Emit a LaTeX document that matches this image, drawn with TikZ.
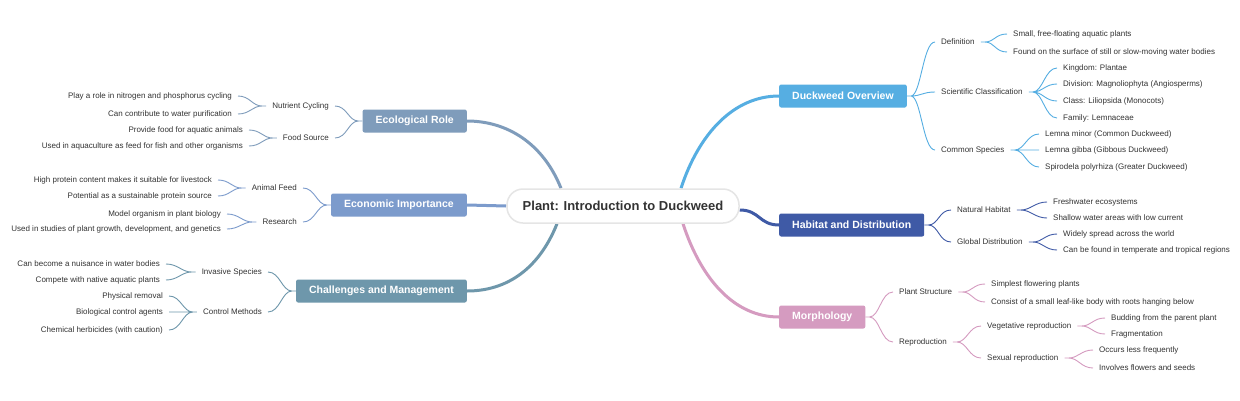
\documentclass[tikz,border=0pt]{standalone}
\usepackage{fontspec}
\setmainfont{Liberation Sans}
\usetikzlibrary{backgrounds}
\definecolor{txt}{HTML}{333333}
\definecolor{ovblue}{HTML}{56AEE2}
\definecolor{habblue}{HTML}{3F5AA6}
\definecolor{morpink}{HTML}{D59BC0}
\definecolor{ecogray}{HTML}{7F9CBB}
\definecolor{econblue}{HTML}{7C9BCC}
\definecolor{chalteal}{HTML}{6E97AB}
\begin{document}
\begin{tikzpicture}[x=1pt,y=-1pt,
  root/.style={draw=black!10, line width=1.5pt, fill=white, rounded corners=16pt,
    minimum width=232pt, minimum height=34pt, text=txt,
    font=\fontsize{13}{15}\selectfont\bfseries},
  topic/.style={rounded corners=2pt, minimum height=23pt, inner xsep=13pt,
    text=white, font=\fontsize{10.5}{12}\selectfont\bfseries},
  sub/.style={inner xsep=6pt, inner ysep=1pt, text=txt,
    font=\fontsize{8}{10}\selectfont},
  rbranch/.style={line width=.9pt, to path={-- ++(4,0) .. controls +(10,0) and +(-12,0) .. (\tikztotarget)}},
  lbranch/.style={line width=.9pt, to path={-- ++(-4,0) .. controls +(-10,0) and +(12,0) .. (\tikztotarget)}},
  trunk/.style={line width=3pt}]
  \useasboundingbox (0,0) rectangle (1240,400);
  % Root
  \node[root] (root) at (623,206) {Plant: Introduction to Duckweed};

  % Duckweed Overview
  \node[topic, fill=ovblue, anchor=west] (ov) at (779,96) {Duckweed Overview};
  \node[sub, anchor=west] (def) at (935,42) {Definition};
  \node[sub, anchor=west] (def1) at (1007,34) {Small, free-floating aquatic plants};
  \node[sub, anchor=west] (def2) at (1007,52) {Found on the surface of still or slow-moving water bodies};
  \node[sub, anchor=west] (sci) at (935,92) {Scientific Classification};
  \node[sub, anchor=west] (sci1) at (1057,68) {Kingdom: Plantae};
  \node[sub, anchor=west] (sci2) at (1057,84) {Division: Magnoliophyta (Angiosperms)};
  \node[sub, anchor=west] (sci3) at (1057,101) {Class: Liliopsida (Monocots)};
  \node[sub, anchor=west] (sci4) at (1057,118) {Family: Lemnaceae};
  \node[sub, anchor=west] (com) at (935,150) {Common Species};
  \node[sub, anchor=west] (com1) at (1039,134) {Lemna minor (Common Duckweed)};
  \node[sub, anchor=west] (com2) at (1039,150) {Lemna gibba (Gibbous Duckweed)};
  \node[sub, anchor=west] (com3) at (1039,167) {Spirodela polyrhiza (Greater Duckweed)};
  \draw[ovblue, rbranch] (ov.east) to (def.west) (ov.east) to (sci.west) (ov.east) to (com.west);
  \draw[ovblue, rbranch] (def.east) to (def1.west) (def.east) to (def2.west);
  \draw[ovblue, rbranch] (sci.east) to (sci1.west) (sci.east) to (sci2.west)
    (sci.east) to (sci3.west) (sci.east) to (sci4.west);
  \draw[ovblue, rbranch] (com.east) to (com1.west) (com.east) to (com2.west) (com.east) to (com3.west);

  % Habitat and Distribution
  \node[topic, fill=habblue, anchor=west] (hab) at (779,225) {Habitat and Distribution};
  \node[sub, anchor=west] (nat) at (951,210) {Natural Habitat};
  \node[sub, anchor=west] (nat1) at (1047,202) {Freshwater ecosystems};
  \node[sub, anchor=west] (nat2) at (1047,218) {Shallow water areas with low current};
  \node[sub, anchor=west] (glo) at (951,242) {Global Distribution};
  \node[sub, anchor=west] (glo1) at (1057,234) {Widely spread across the world};
  \node[sub, anchor=west] (glo2) at (1057,250) {Can be found in temperate and tropical regions};
  \draw[habblue, rbranch] (hab.east) to (nat.west) (hab.east) to (glo.west);
  \draw[habblue, rbranch] (nat.east) to (nat1.west) (nat.east) to (nat2.west);
  \draw[habblue, rbranch] (glo.east) to (glo1.west) (glo.east) to (glo2.west);

  % Morphology
  \node[topic, fill=morpink, anchor=west] (mor) at (779,317) {Morphology};
  \node[sub, anchor=west] (pst) at (893,292) {Plant Structure};
  \node[sub, anchor=west] (pst1) at (985,284) {Simplest flowering plants};
  \node[sub, anchor=west] (pst2) at (985,302) {Consist of a small leaf-like body with roots hanging below};
  \node[sub, anchor=west] (rep) at (893,342) {Reproduction};
  \node[sub, anchor=west] (veg) at (981,326) {Vegetative reproduction};
  \node[sub, anchor=west] (veg1) at (1105,318) {Budding from the parent plant};
  \node[sub, anchor=west] (veg2) at (1105,334) {Fragmentation};
  \node[sub, anchor=west] (sex) at (981,358) {Sexual reproduction};
  \node[sub, anchor=west] (sex1) at (1093,350) {Occurs less frequently};
  \node[sub, anchor=west] (sex2) at (1093,368) {Involves flowers and seeds};
  \draw[morpink, rbranch] (mor.east) to (pst.west) (mor.east) to (rep.west);
  \draw[morpink, rbranch] (pst.east) to (pst1.west) (pst.east) to (pst2.west);
  \draw[morpink, rbranch] (rep.east) to (veg.west) (rep.east) to (sex.west);
  \draw[morpink, rbranch] (veg.east) to (veg1.west) (veg.east) to (veg2.west);
  \draw[morpink, rbranch] (sex.east) to (sex1.west) (sex.east) to (sex2.west);

  % Ecological Role
  \node[topic, fill=ecogray, anchor=east] (eco) at (467,121) {Ecological Role};
  \node[sub, anchor=east] (nut) at (335,106) {Nutrient Cycling};
  \node[sub, anchor=east] (nut1) at (238,96) {Play a role in nitrogen and phosphorus cycling};
  \node[sub, anchor=east] (nut2) at (238,114) {Can contribute to water purification};
  \node[sub, anchor=east] (food) at (335,138) {Food Source};
  \node[sub, anchor=east] (food1) at (249,130) {Provide food for aquatic animals};
  \node[sub, anchor=east] (food2) at (249,146) {Used in aquaculture as feed for fish and other organisms};
  \draw[ecogray, lbranch] (eco.west) to (nut.east) (eco.west) to (food.east);
  \draw[ecogray, lbranch] (nut.west) to (nut1.east) (nut.west) to (nut2.east);
  \draw[ecogray, lbranch] (food.west) to (food1.east) (food.west) to (food2.east);

  % Economic Importance
  \node[topic, fill=econblue, anchor=east] (econ) at (467,205) {Economic Importance};
  \node[sub, anchor=east] (feed) at (303,188) {Animal Feed};
  \node[sub, anchor=east] (feed1) at (218,180) {High protein content makes it suitable for livestock};
  \node[sub, anchor=east] (feed2) at (218,196) {Potential as a sustainable protein source};
  \node[sub, anchor=east] (res) at (303,222) {Research};
  \node[sub, anchor=east] (res1) at (227,214) {Model organism in plant biology};
  \node[sub, anchor=east] (res2) at (227,229) {Used in studies of plant growth, development, and genetics};
  \draw[econblue, lbranch] (econ.west) to (feed.east) (econ.west) to (res.east);
  \draw[econblue, lbranch] (feed.west) to (feed1.east) (feed.west) to (feed2.east);
  \draw[econblue, lbranch] (res.west) to (res1.east) (res.west) to (res2.east);

  % Challenges and Management
  \node[topic, fill=chalteal, anchor=east] (cha) at (467,291) {Challenges and Management};
  \node[sub, anchor=east] (inv) at (268,272) {Invasive Species};
  \node[sub, anchor=east] (inv1) at (166,264) {Can become a nuisance in water bodies};
  \node[sub, anchor=east] (inv2) at (166,280) {Compete with native aquatic plants};
  \node[sub, anchor=east] (ctl) at (268,312) {Control Methods};
  \node[sub, anchor=east] (ctl1) at (169,296) {Physical removal};
  \node[sub, anchor=east] (ctl2) at (169,312) {Biological control agents};
  \node[sub, anchor=east] (ctl3) at (169,330) {Chemical herbicides (with caution)};
  \draw[chalteal, lbranch] (cha.west) to (inv.east) (cha.west) to (ctl.east);
  \draw[chalteal, lbranch] (inv.west) to (inv1.east) (inv.west) to (inv2.east);
  \draw[chalteal, lbranch] (ctl.west) to (ctl1.east) (ctl.west) to (ctl2.east) (ctl.west) to (ctl3.east);

  % Trunks behind the root
  \begin{scope}[on background layer]
    \fill[white] (0,0) rectangle (1240,400);
    \draw[trunk, ovblue] ([xshift=58pt]root.north) .. controls +(18,-55) and +(-45,0) .. (ov.west);
    \draw[trunk, habblue] ([yshift=-4pt]root.east) .. controls +(20,0) and +(-20,0) .. (hab.west);
    \draw[trunk, morpink] ([xshift=60pt]root.south) .. controls +(18,55) and +(-45,0) .. (mor.west);
    \draw[trunk, ecogray] ([xshift=-62pt]root.north) .. controls +(-18,-45) and +(40,0) .. (eco.east);
    \draw[trunk, econblue] (root.west) -- (econ.east);
    \draw[trunk, chalteal] ([xshift=-66pt]root.south) .. controls +(-18,45) and +(40,0) .. (cha.east);
  \end{scope}
\end{tikzpicture}
\end{document}
